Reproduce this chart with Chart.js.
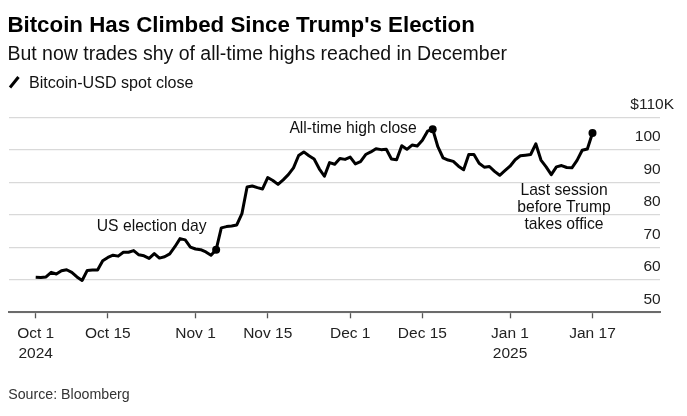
<!DOCTYPE html>
<html><head><meta charset="utf-8">
<script src="https://cdn.jsdelivr.net/npm/chart.js@4"></script>
<style>
html,body{margin:0;padding:0;background:#fff;}
#wrap{position:relative;width:687px;height:416px;overflow:hidden;font-family:"Liberation Sans",Arial,Helvetica,sans-serif;}
#c{position:absolute;left:0;top:0;}
.t{position:absolute;white-space:nowrap;line-height:1;color:#000;}
</style></head><body>
<div id="wrap">
<canvas id="c" width="687" height="416"></canvas>
<div class="t" style="left:7.4px;top:14.4px;font-size:22.3px;font-weight:700;">Bitcoin Has Climbed Since Trump's Election</div>
<div class="t" style="left:7.4px;top:43.5px;font-size:19.5px;color:#111;">But now trades shy of all-time highs reached in December</div>
<svg style="position:absolute;left:0;top:0;" width="30" height="100"><line x1="10" y1="87.5" x2="18.5" y2="77" stroke="#000" stroke-width="3"/></svg>
<div class="t" style="left:28.9px;top:73.8px;font-size:16.1px;color:#111;">Bitcoin-USD spot close</div>
<div class="t" style="left:8.2px;top:387.4px;font-size:14.2px;color:#333;">Source: Bloomberg</div>
</div>
<script>
// Daily Bitcoin-USD close, Oct 1 2024 (day 0) .. Jan 17 2025 (day 108), $K
const btcClose = [
 60.8,60.7,60.9,62.3,61.8,62.8,63.1,62.3,60.9,59.8,
 62.9,63.0,63.0,65.9,66.9,67.6,67.3,68.5,68.5,69.0,
 67.7,67.4,66.6,68.1,66.7,67.1,68.0,70.2,72.7,72.3,
 70.1,69.5,69.3,68.6,67.6,69.3,76.0,76.4,76.6,76.9,
 80.4,88.6,88.9,88.4,88.0,91.5,90.6,89.4,90.8,92.4,
 94.5,98.3,99.4,98.2,97.2,94.2,91.9,96.1,95.6,97.4,
 97.1,97.8,95.7,96.4,98.6,99.4,100.4,100.1,100.2,97.2,
 97.0,101.3,100.2,101.5,101.2,103.0,105.8,106.4,101.0,97.6,
 96.9,96.5,95.0,93.9,98.6,98.6,95.9,94.7,94.9,93.4,
 92.2,93.6,95.0,97.0,98.2,98.4,98.6,101.9,96.9,94.8,
 92.4,94.8,95.2,94.6,94.5,96.8,99.9,100.3,105.2
];
const startDate = "2024-10-01";
const tickDays = [0,14,31,45,61,75,92,108];
const tickLabels = [["Oct 1","2024"],["Oct 15"],["Nov 1"],["Nov 15"],["Dec 1"],["Dec 15"],["Jan 1","2025"],["Jan 17"]];
const yTickValues = [50,60,70,80,90,100,110];
const yTickLabels = ["50","60","70","80","90","100","$110K"];
const markedDays = [35,77,108];
const annotations = [
  {day:35, lines:["US election day"]},
  {day:77, lines:["All-time high close"]},
  {day:108, lines:["Last session","before Trump","takes office"]}
];

const days = btcClose.map((_, i) => i);
const points = btcClose.map((v, i) => ({x: days[i], y: v}));
const FONT = '"Liberation Sans", Arial, Helvetica, sans-serif';

const overlay = {
  id: 'overlay',
  afterDraw(chart) {
    const ctx = chart.ctx, y = chart.scales.y, area = chart.chartArea;
    ctx.save();
    ctx.fillStyle = '#222';
    ctx.font = '15.5px ' + FONT;
    ctx.textAlign = 'right';
    ctx.textBaseline = 'alphabetic';
    yTickValues.forEach((v, i) => {
      const py = y.getPixelForValue(v);
      const lab = yTickLabels[i];
      const rx = lab.startsWith('$') ? area.right + 14 : area.right + 0.7;
      ctx.fillText(lab, rx, py - 8.7);
    });
    const meta = chart.getDatasetMeta(0);
    ctx.fillStyle = '#111';
    ctx.font = '15.7px ' + FONT;
    annotations.forEach((a, k) => {
      const p = meta.data[a.day];
      if (k === 0) { ctx.textAlign = 'right'; ctx.fillText(a.lines[0], p.x - 9.5, p.y - 19); }
      else if (k === 1) { ctx.textAlign = 'right'; ctx.fillText(a.lines[0], p.x - 16, p.y + 4.3); }
      else {
        ctx.textAlign = 'center';
        a.lines.forEach((l, j) => ctx.fillText(l, p.x - 28.5, p.y + 62.3 + j * 17));
      }
    });
    ctx.restore();
  }
};

new Chart(document.getElementById('c'), {
  type: 'line',
  data: {
    datasets: [{
      label: 'Bitcoin-USD spot close',
      data: points,
      borderColor: '#000',
      borderWidth: 3,
      borderJoinStyle: 'round',
      tension: 0,
      pointRadius: days.map(d => markedDays.includes(d) ? 4 : 0),
      pointBackgroundColor: '#000',
      pointBorderWidth: 0,
      pointHoverRadius: 0
    }]
  },
  options: {
    responsive: false,
    animation: false,
    events: [],
    layout: { padding: { left: 9, right: 27, top: 117.5, bottom: 47.4 } },
    plugins: { legend: { display: false }, tooltip: { enabled: false } },
    scales: {
      x: {
        type: 'linear',
        min: -5.179,
        max: 121.09,
        afterBuildTicks: (s) => { s.ticks = tickDays.map(v => ({value: v})); },
        ticks: {
          autoSkip: false,
          maxRotation: 0,
          padding: 5,
          color: '#222',
          font: { family: FONT, size: 15.5, lineHeight: 1.3 },
          callback: (v) => { const i = tickDays.indexOf(v); return i >= 0 ? tickLabels[i] : ''; }
        },
        grid: { drawOnChartArea: false, drawTicks: true, tickLength: 6, tickColor: '#555', tickWidth: 1.3 },
        border: { display: true, color: '#6b6b6b', width: 2 }
      },
      y: {
        min: 50,
        max: 110,
        afterBuildTicks: (s) => { s.ticks = yTickValues.map(v => ({value: v})); },
        ticks: { display: false },
        grid: { color: '#d9d9d9', lineWidth: 1.2, drawTicks: false },
        border: { display: false }
      }
    }
  },
  plugins: [overlay]
});
</script>
</body></html>
